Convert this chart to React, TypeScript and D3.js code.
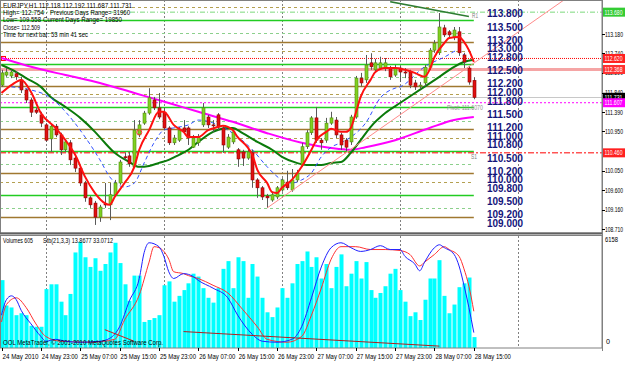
import React from 'react';
import * as d3 from 'd3';

const W = 625, H = 370;

// ---- data ----
const opens = [112.01,112.24,112.22,112.27,112.13,111.90,111.67,111.44,111.33,111.10,110.78,111.07,110.87,110.53,110.69,110.34,110.11,109.77,109.43,109.31,108.99,109.29,109.27,109.50,109.77,110.37,110.39,110.14,110.87,111.14,111.37,111.67,111.49,111.39,111.03,110.69,110.75,111.03,111.03,110.59,110.69,111.10,111.28,111.10,111.33,111.03,110.59,110.71,110.53,110.48,110.34,110.46,109.84,109.66,109.47,109.38,109.45,109.61,109.79,109.61,109.84,110.18,110.60,110.92,111.26,110.75,110.75,111.14,111.21,110.87,110.75,110.71,111.28,112.17,112.13,112.52,112.36,112.40,112.40,112.40,112.24,112.40,112.31,112.31,112.06,111.99,112.06,112.42,112.81,112.75,113.32,113.23,113.11,113.23,112.70,112.40,112.118];
const highs = [112.36,112.40,112.36,112.33,112.20,111.93,111.72,111.49,111.40,111.14,111.12,111.12,110.92,110.75,110.75,110.39,110.15,109.82,109.47,109.36,109.27,109.77,109.77,109.84,110.30,110.46,110.48,111.21,111.21,111.42,111.94,111.74,111.83,111.49,111.07,110.87,111.05,111.21,111.07,110.87,110.89,111.60,111.33,111.21,111.37,111.07,110.89,111.00,110.57,110.53,110.55,110.53,109.88,109.70,109.52,109.57,109.70,109.88,110.05,110.09,110.07,110.69,110.98,111.30,111.51,110.80,111.26,111.40,111.28,110.92,110.80,111.33,112.22,112.29,112.70,112.74,112.61,112.66,112.63,112.45,112.47,112.45,112.40,112.36,112.13,112.08,112.47,112.86,113.04,113.66,113.39,113.27,113.34,113.34,112.75,112.45,112.192];
const lows = [111.97,112.20,112.17,112.13,111.83,111.60,111.28,111.35,111.05,110.71,110.48,110.82,110.41,110.48,110.18,110.02,109.70,109.34,109.20,108.81,108.88,109.20,108.92,109.45,109.73,110.30,110.14,110.11,110.82,111.10,111.33,111.44,111.23,110.98,110.64,110.64,110.71,110.89,110.64,110.57,110.62,111.05,111.03,110.94,110.98,110.46,110.55,110.66,110.14,110.16,110.30,109.66,109.43,109.38,109.20,109.34,109.40,109.57,109.61,109.57,109.79,110.14,110.55,110.87,110.69,110.53,110.69,111.10,110.80,110.53,110.50,110.64,111.24,111.98,112.06,112.36,112.31,112.36,112.33,112.13,112.20,112.08,112.17,111.94,111.90,111.92,111.99,112.36,112.75,112.70,113.11,113.07,113.04,112.68,112.40,112.02,111.687];
const closes = [112.29,112.31,112.31,112.20,111.90,111.67,111.39,111.39,111.14,110.75,111.07,110.87,110.53,110.71,110.30,110.11,109.77,109.43,109.27,108.99,109.22,109.28,109.50,109.77,110.25,110.36,110.21,110.98,111.10,111.37,111.72,111.49,111.28,111.03,110.69,110.80,110.98,110.94,110.80,110.80,110.82,111.49,111.10,111.09,111.05,110.64,110.82,110.94,110.32,110.34,110.48,109.84,109.66,109.45,109.43,109.50,109.66,109.84,109.66,109.84,110.00,110.60,110.92,111.26,110.75,110.69,111.14,111.26,110.87,110.64,110.59,111.28,112.17,112.06,112.47,112.43,112.52,112.52,112.52,112.20,112.40,112.31,112.30,112.01,111.97,112.01,112.42,112.81,112.97,113.34,113.16,113.16,113.27,112.75,112.54,112.08,111.731];
const volumes = [3765,2356,2249,1821,1928,1821,1232,1178,1178,3267,3534,3534,2570,1821,2999,5301,5890,5034,4498,4980,4284,4659,5301,5837,4712,3534,2624,4016,4016,1446,1553,1660,1821,3481,3695,2570,2892,3213,3588,4123,3963,3320,2785,2517,3320,4391,4820,3320,5034,4820,2785,4659,3963,2785,1981,1714,2249,3320,2785,3588,4659,4820,5355,4498,5034,3856,4659,3320,4498,5194,3427,4123,4820,3856,4766,3213,2785,3052,3427,4123,4391,3213,2570,1767,1981,1553,2678,3856,3856,4873,2892,1928,2410,3374,3588,3909,605];

const timeLabels = ['24 May 2010','24 May 23:00','25 May 07:00','25 May 15:00','25 May 23:00','26 May 07:00','26 May 15:00','26 May 23:00','27 May 07:00','27 May 15:00','27 May 23:00','28 May 07:00','28 May 15:00'];
const timeLabelBars = [0,8,16,24,32,40,48,56,64,72,80,88,96];
const daySeparatorBars = [9,33,57,81,105];

const axisTicks = [113.180,112.740,112.290,111.840,111.390,110.950,110.050,109.600,109.160,108.710];
const roundLevels = [113.8,113.5,113.2,113.0,112.8,112.5,112.2,112.0,111.8,111.5,111.2,111.0,110.8,110.5,110.2,110.0,109.8,109.5,109.2,109.0];

const redMA = [[0,111.83],[2,112.01],[4,112.13],[6,111.85],[8,111.37],[11,111.03],[13,110.75],[15,110.41],[17,109.91],[19,109.54],[21,109.31],[22,109.27],[23,109.45],[25,109.77],[27,110.14],[28,110.53],[30,110.98],[32,111.40],[33,111.40],[35,111.10],[37,110.94],[38,110.82],[40,110.82],[42,110.98],[44,111.05],[45,111.08],[47,110.98],[48,110.82],[50,110.59],[51,110.41],[52,110.07],[54,109.77],[55,109.56],[56,109.54],[57,109.66],[59,109.84],[61,110.14],[63,110.53],[64,110.75],[66,110.94],[67,111.01],[69,110.94],[70,110.94],[71,111.03],[72,111.37],[73,111.74],[75,112.13],[76,112.31],[78,112.40],[80,112.40],[82,112.36],[84,112.29],[86,112.20],[87,112.36],[88,112.65],[90,112.97],[91,113.09],[93,113.11],[94,113.00],[95,112.81],[96,112.54]];
const greenMA = [[0,112.47],[3,112.31],[5,112.17],[8,111.97],[10,111.74],[13,111.51],[16,111.26],[19,110.94],[21,110.69],[23,110.46],[26,110.25],[28,110.14],[30,110.16],[32,110.23],[34,110.30],[36,110.41],[38,110.53],[40,110.71],[43,110.94],[46,111.03],[47,111.03],[49,110.91],[52,110.71],[55,110.53],[57,110.37],[60,110.23],[62,110.18],[65,110.18],[67,110.23],[69,110.25],[71,110.46],[73,110.75],[75,111.05],[78,111.37],[81,111.60],[85,111.90],[89,112.20],[92,112.43],[94,112.54],[96,112.59]];
const magentaMA = [[0,112.63],[6,112.43],[13,112.24],[20,112.06],[27,111.83],[34,111.60],[40,111.40],[47,111.17],[54,110.91],[61,110.69],[67,110.57],[71,110.53],[74,110.59],[80,110.75],[87,111.03],[92,111.21],[96,111.28]];
const blueMA = [[2,111.97],[6,111.90],[10,111.72],[13,111.40],[17,110.82],[20,110.30],[22,109.91],[25,109.68],[27,109.77],[29,110.23],[31,110.69],[33,110.98],[35,111.03],[38,111.10],[40,111.21],[44,111.10],[47,110.91],[51,110.53],[54,110.14],[57,109.84],[59,109.77],[61,109.84],[63,110.00],[65,110.37],[67,110.59],[69,110.69],[71,110.82],[74,111.14],[77,111.72],[80,111.94],[81,111.97],[86,112.43],[90,112.65],[93,112.81],[94,112.70]];

const stochMain = [[0,29.6],[1,43.5],[2,47.0],[3,43.5],[4,33.9],[6,21.7],[8,10.4],[9,6.1],[11,7.8],[13,6.1],[16,5.2],[20,6.1],[22,8.7],[24,19.1],[26,42.6],[28,62.6],[29,86.1],[30,94.8],[32,91.3],[33,82.6],[34,68.7],[35,62.6],[37,67.0],[39,64.3],[40,60.9],[43,53.9],[46,45.2],[48,29.6],[51,12.2],[53,6.1],[56,5.2],[59,7.8],[61,19.1],[63,45.2],[65,73.0],[67,90.4],[69,94.8],[71,90.4],[73,87.0],[75,88.7],[77,92.2],[79,88.7],[81,88.7],[82,82.6],[84,75.7],[85,69.6],[86,77.4],[88,90.4],[89,93.0],[90,90.4],[92,84.3],[93,73.9],[94,56.5],[95,36.5],[96,13.87]];
const stochSignal = [[0,23.5],[1,39.1],[3,45.2],[5,36.5],[7,21.7],[9,10.4],[12,6.1],[18,5.2],[23,7.8],[25,25.2],[28,47.8],[30,77.4],[31,91.3],[32,90.4],[34,80.0],[35,68.7],[37,67.0],[38,65.2],[40,62.6],[43,56.5],[46,49.6],[49,34.8],[52,19.1],[54,7.8],[58,5.2],[61,10.4],[63,29.6],[65,53.9],[67,80.0],[69,91.3],[72,91.3],[75,88.7],[78,88.7],[81,87.8],[83,84.3],[85,73.9],[86,77.4],[88,84.3],[90,91.3],[91,88.7],[93,82.6],[94,71.3],[95,55.7],[96,33.07]];

const supportTrend = [[54,109.20],[81,111.33]];
const resistTrend = [[79,113.92],[95,113.58]];
const divLine1 = [[21,16.5],[27,6.0]];
const divLine2 = [[37,14.8],[89,1.7]];

const priceLabels = [
  { v: 113.680, bg: '#33CC33', text: '113.680' },
  { v: 112.620, bg: '#FF2020', text: '112.620' },
  { v: 112.368, bg: '#FF3030', text: '112.368' },
  { v: 111.731, bg: '#000000', text: '111.731' },
  { v: 111.607, bg: '#FF00FF', text: '111.607' },
  { v: 110.460, bg: '#FF2020', text: '110.460' },
];

const FONT = 'Liberation Sans, Arial, sans-serif';

export default function App() {
  const RIGHT = 602;
  const MAIN_BOTTOM = 232.5;
  const VOL_TOP = 236;
  const VOL_BOTTOM = 348;
  const x = d3.scaleLinear().domain([0, 96]).range([1.5, 1.5 + 96 * 4.92]);
  const y = d3.scaleLinear().domain([108.71, 113.18]).range([229.3, 34]);
  const yv = d3.scaleLinear().domain([0, 6158]).range([VOL_BOTTOM, 237]);
  const ys = d3.scaleLinear().domain([0, 100]).range([VOL_BOTTOM, 237]);

  const mkLine = (pts: number[][], sc: any) =>
    d3.line<number[]>().x(d => x(d[0])).y(d => sc(d[1])).curve(d3.curveMonotoneX)(pts) || '';

  const extend = (pts: number[][], toBar: number) => {
    const [[b0, p0], [b1, p1]] = pts;
    const s = (p1 - p0) / (b1 - b0);
    return [[b0, p0], [toBar, p0 + s * (toBar - b0)]];
  };
  const sup = extend(supportTrend, 125);

  const small = (txt: string, px: number, py: number, len: number, size = 7, fill = '#000') => (
    <text x={px} y={py} fontFamily={FONT} fontSize={size} fill={fill}
      textLength={len} lengthAdjust="spacingAndGlyphs">{txt}</text>
  );

  return (
    <svg width={W} height={H} style={{ position: 'absolute', left: 0, top: 0, background: '#fff' }}>
      <defs>
        <clipPath id="mainClip"><rect x={1} y={1} width={RIGHT - 1} height={MAIN_BOTTOM - 1} /></clipPath>
        <clipPath id="volClip"><rect x={1} y={VOL_TOP} width={RIGHT - 1} height={VOL_BOTTOM - VOL_TOP} /></clipPath>
      </defs>
      <rect x={0} y={0} width={W} height={H} fill="#fff" />

      {/* main panel */}
      <g clipPath="url(#mainClip)">
        {daySeparatorBars.map(b => (
          <line key={'ds' + b} x1={Math.round(x(b)) + 0.5} x2={Math.round(x(b)) + 0.5} y1={0} y2={MAIN_BOTTOM}
            stroke="#808080" strokeDasharray="2,2" />
        ))}
        {roundLevels.map(l => {
          const frac = Math.round((l * 10) % 10);
          const yy = Math.round(y(l)) + 0.5;
          if (frac === 0) return <line key={'lv' + l} x1={0} x2={x(96)} y1={yy} y2={yy} stroke="#A07830" strokeWidth={1.5} />;
          if (frac === 5) return <line key={'lv' + l} x1={0} x2={x(96)} y1={yy} y2={yy} stroke="#22CC22" strokeWidth={1.5} />;
          return <line key={'lv' + l} x1={0} x2={x(96)} y1={yy} y2={yy} stroke={frac === 8 ? '#B4A050' : '#8CD08C'} strokeDasharray="3,3" />;
        })}
        <line x1={0} x2={RIGHT} y1={y(113.68)} y2={y(113.68)} stroke="#7CD87C" strokeDasharray="5,2,1,2" />
        <line x1={0} x2={RIGHT} y1={y(112.368)} y2={y(112.368)} stroke="#F5A5A5" strokeWidth={3} />
        <line x1={0} x2={RIGHT} y1={y(112.62)} y2={y(112.62)} stroke="#FF0000" strokeDasharray="1,1" />
        <rect x={1.5} y={y(112.62) - 2} width={4} height={4} fill="#fff" stroke="#FF0000" />
        <line x1={0} x2={RIGHT} y1={Math.round(y(111.731)) + 0.5} y2={Math.round(y(111.731)) + 0.5} stroke="#C8C8C8" />
        <line x1={0} x2={RIGHT} y1={y(111.607)} y2={y(111.607)} stroke="#FF00FF" strokeDasharray="2,2" />
        <line x1={0} x2={RIGHT} y1={y(110.46)} y2={y(110.46)} stroke="#FF0000" strokeDasharray="6,2,2,2" />

        <path d={mkLine(magentaMA, y)} fill="none" stroke="#FF00FF" strokeWidth={2} />
        <path d={mkLine(greenMA, y)} fill="none" stroke="#0B7A0B" strokeWidth={2} />
        <path d={mkLine(blueMA, y)} fill="none" stroke="#3050FF" strokeWidth={1} strokeDasharray="4,3" />

        {opens.map((o, i) => {
          const c = closes[i];
          const cx = Math.round(x(i)) + 0.5;
          const up = c >= o;
          const top = y(Math.max(o, c));
          const bot = y(Math.min(o, c));
          return (
            <g key={'c' + i}>
              <line x1={cx} x2={cx} y1={y(highs[i])} y2={y(lows[i])} stroke="#5A5A5A" />
              <rect x={cx - 1.5} y={top} width={3} height={Math.max(1, bot - top)}
                fill={up ? '#80D020' : '#E01010'} stroke={up ? '#4E8A10' : '#900000'} strokeWidth={0.6} />
            </g>
          );
        })}

        <path d={mkLine(redMA, y)} fill="none" stroke="#FF1010" strokeWidth={2} />

        <line x1={x(sup[0][0])} y1={y(sup[0][1])} x2={x(sup[1][0])} y2={y(sup[1][1])} stroke="#FF8A8A" strokeWidth={1} />
        <line x1={x(resistTrend[0][0])} y1={y(resistTrend[0][1])} x2={x(resistTrend[1][0])} y2={y(resistTrend[1][1])} stroke="#2E7D32" strokeWidth={1.5} />
        <circle cx={x(28)} cy={y(110.93)} r={2.5} fill="none" stroke="#FF3030" />

        {roundLevels.map(l => (
          <text key={'tl' + l} x={487} y={y(l) + 10.5} fontFamily={FONT} fontSize={10.5} fontWeight="bold" fill="#14147A"
            textLength={36} lengthAdjust="spacingAndGlyphs">{l.toFixed(3)}</text>
        ))}
        {small('R1', 472, y(113.68) + 6, 6, 7, '#808080')}
        {small('S1', 471, y(110.46) + 6, 6, 7, '#808080')}
        {small('Pivot: 111.6070', 447, y(111.607) + 7, 36, 7, '#909090')}

        {small('EURJPY,H1  112.118 112.192 111.687 111.731', 3, 7.5, 129)}
        {small('High= 112.754', 3, 14.8, 41)}
        {small('Previous Days Range= 31960', 50, 14.8, 80)}
        {small('Low= 109.558', 3, 22.2, 38)}
        {small('Current Days Range= 19850', 43, 22.2, 79)}
        {small('Close= 112.509', 3, 29.5, 37)}
        {small('Time for next bar: 53 min 41 sec', 3, 36.8, 85)}
      </g>

      {/* volume panel */}
      <g clipPath="url(#volClip)">
        {daySeparatorBars.map(b => (
          <line key={'vs' + b} x1={Math.round(x(b)) + 0.5} x2={Math.round(x(b)) + 0.5} y1={VOL_TOP} y2={VOL_BOTTOM}
            stroke="#808080" strokeDasharray="2,2" />
        ))}
        {volumes.map((v, i) => (
          <rect key={'v' + i} x={Math.round(x(i)) - 1.5} y={yv(v)} width={4} height={yv(0) - yv(v)} fill="#00FFFF" />
        ))}
        <path d={mkLine(stochSignal, ys)} fill="none" stroke="#FF3030" strokeWidth={1} />
        <path d={mkLine(stochMain, ys)} fill="none" stroke="#2020FF" strokeWidth={1} />
        <line x1={x(divLine1[0][0])} y1={ys(divLine1[0][1])} x2={x(divLine1[1][0])} y2={ys(divLine1[1][1])} stroke="#CC2020" />
        <line x1={x(divLine2[0][0])} y1={ys(divLine2[0][1])} x2={x(divLine2[1][0])} y2={ys(divLine2[1][1])} stroke="#B02020" />
        {small('Volumes 605', 3, 242.5, 30)}
        {small('Stb(21,3,3) 13.8677 33.0712', 43, 242.5, 70)}
        {small('OOL MetaTrader, © 2001-2010 MetaQuotes Software Corp.', 3, 344.5, 160)}
      </g>

      {/* frames */}
      <rect x={0.5} y={0.5} width={RIGHT - 0.5} height={MAIN_BOTTOM} fill="none" stroke="#808080" />
      <line x1={0} x2={RIGHT} y1={233.5} y2={233.5} stroke="#606060" strokeWidth={2} />
      <rect x={0.5} y={235.5} width={RIGHT - 0.5} height={VOL_BOTTOM - 235.5} fill="none" stroke="#808080" />
      <line x1={RIGHT + 0.5} x2={RIGHT + 0.5} y1={0} y2={VOL_BOTTOM + 3} stroke="#808080" />

      {/* right price axis */}
      {axisTicks.map(t => (
        <g key={'at' + t}>
          <line x1={RIGHT} x2={RIGHT + 3} y1={Math.round(y(t)) + 0.5} y2={Math.round(y(t)) + 0.5} stroke="#000" />
          {small(t.toFixed(3), 605, y(t) + 2.5, 18, 7)}
        </g>
      ))}
      {priceLabels.map(p => (
        <g key={'pl' + p.text}>
          <rect x={RIGHT + 1} y={y(p.v) - 4.5} width={W - RIGHT} height={9} fill={p.bg} />
          {small(p.text, 604.5, y(p.v) + 2.5, 18, 7, '#fff')}
        </g>
      ))}
      {small('6158', 605, 242, 13, 7)}
      {small('0', 606, 344, 4, 7)}

      {/* time axis */}
      {timeLabelBars.map((b, i) => (
        <g key={'tt' + b}>
          <line x1={Math.round(x(b)) + 0.5} x2={Math.round(x(b)) + 0.5} y1={VOL_BOTTOM} y2={VOL_BOTTOM + 3} stroke="#000" />
          {small(timeLabels[i], x(b) + 1, 359, 36, 7)}
        </g>
      ))}
    </svg>
  );
}
